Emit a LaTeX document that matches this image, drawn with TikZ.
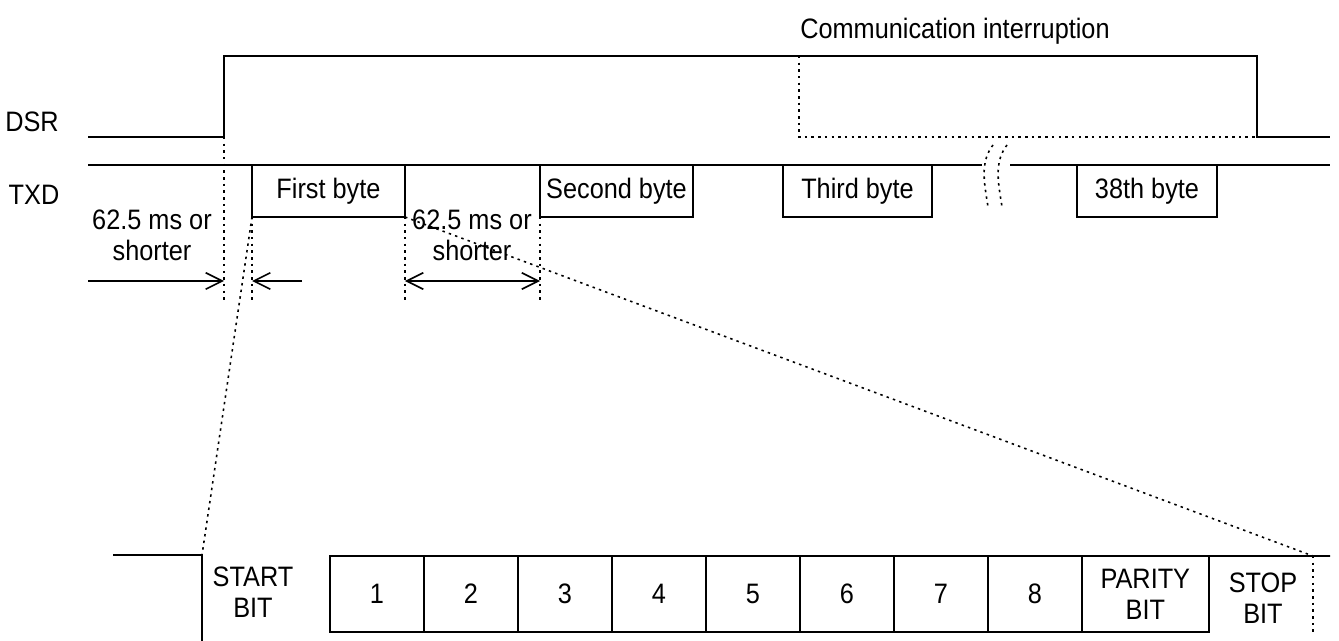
\documentclass[tikz,border=0pt]{standalone}
\usepackage{fontspec}
\setmainfont{Liberation Sans}[FakeStretch=0.9]
\usetikzlibrary{arrows.meta,positioning}

\tikzset{
  bytebox/.style={draw, minimum height=1.04cm, inner sep=0pt, outer sep=0pt},
  bitcell/.style={draw, minimum width=1.88cm, minimum height=1.52cm, inner sep=0pt, outer sep=0pt, align=center},
  guide/.style={dash pattern=on 1.4pt off 2.4pt},
  dimline/.style={-{Straight Barb[length=3.3mm,width=3.3mm]}},
  both/.style={{Straight Barb[length=3.3mm,width=3.3mm]}-{Straight Barb[length=3.3mm,width=3.3mm]}}
}

\begin{document}
\begin{tikzpicture}[x=0.02cm, y=-0.02cm, line width=0.9pt,
    every node/.style={font=\fontsize{16pt}{17.5pt}\selectfont}]
  \useasboundingbox (0,0) rectangle (1339,641);

  %%%%% DSR %%%%%
  \node (dsr) at (32,122) {DSR};
  \coordinate (dsrL)    at (88,137);
  \coordinate (dsrRise) at (224,137);
  \coordinate (dsrHi)   at (224,56);
  \coordinate (ciTop)   at (799,56);
  \coordinate (dsrFall) at (1257,56);
  \coordinate (dsrLo)   at (1257,137);
  \coordinate (dsrR)    at (1330,137);
  \draw (dsrL) -- (dsrRise) -- (dsrHi) -- (dsrFall) -- (dsrLo) -- (dsrR);
  \draw[guide] (ciTop) -- (ciTop |- dsrLo) -- (dsrLo);
  \node (ci) at (955,31) {Communication interruption};

  %%%%% TXD %%%%%
  \node (txd) at (34,195) {TXD};
  \coordinate (txdL) at (88,165);
  \coordinate (brkL) at (982,165);
  \coordinate (brkR) at (1010,165);
  \coordinate (txdR) at (1330,165);
  \draw (txdL) -- (brkL);
  \draw (brkR) -- (txdR);
  \node[bytebox, minimum width=3.06cm] (first)  at (328.5,191) {First byte};
  \node[bytebox, minimum width=3.06cm] (second) at (616.5,191) {Second byte};
  \node[bytebox, minimum width=2.98cm] (third)  at (857.5,191) {Third byte};
  \node[bytebox, minimum width=2.80cm] (last)   at (1147,191)  {38th byte};

  % break in the line
  \draw[guide] (993,145) .. controls (979,163) and (985,186) .. (988,207);
  \draw[guide] (1007,145) .. controls (993,163) and (999,186) .. (1002,207);

  %%%%% gaps %%%%%
  \coordinate (gy) at (0,300);
  \coordinate (ay) at (0,281);
  \draw[guide] (dsrRise) -- (dsrRise |- gy);
  \draw[guide] (first.south west) -- (first.south west |- gy);
  \draw[guide] (first.south east) -- (first.south east |- gy);
  \draw[guide] (second.south west) -- (second.south west |- gy);

  \coordinate (arrL) at (88,281);
  \coordinate (arrR) at (302,281);
  \draw[dimline] (arrL) -- (dsrRise |- ay);
  \draw[dimline] (arrR) -- (first.south west |- ay);
  \draw[both] (first.south east |- ay) -- (second.south west |- ay);

  \node[align=center] (gapA) at (152,235) {62.5 ms or\\shorter};
  \node[align=center] (gapB) at (472,235) {62.5 ms or\\shorter};

  %%%%% one byte %%%%%
  \coordinate (lowL)  at (113,555);
  \coordinate (dropT) at (202,555);
  \coordinate (dropB) at (202,641);
  \draw (lowL) -- (dropT) -- (dropB);
  \node[align=center] (startbit) at (253,592) {START\\BIT};

  \node[bitcell] (b1) at (377,594) {1};
  \foreach \i [count=\p from 1] in {2,...,8}
    \node[bitcell, right=0pt of b\p] (b\i) {\i};
  \node[bitcell, minimum width=2.54cm, right=0pt of b8] (parity) {PARITY\\BIT};

  \coordinate (frameR)  at (1330,556);
  \coordinate (stopEnd) at (1313,556);
  \draw (parity.north east) -- (frameR);
  \draw[guide] (stopEnd) -- (stopEnd |- parity.south);
  \node[align=center] (stopbit) at (1263,598) {STOP\\BIT};

  % zoom lines
  \draw[guide] (first.south west) -- (dropT);
  \draw[guide] (first.south east) -- (stopEnd);
\end{tikzpicture}
\end{document}
